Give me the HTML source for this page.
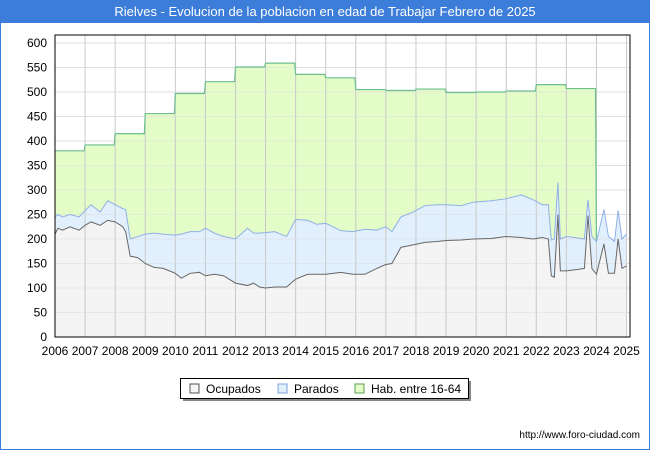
<!DOCTYPE html>
<html><head><meta charset="utf-8"><style>
body{margin:0;background:#fff;font-family:"Liberation Sans",sans-serif}
#wrap{position:relative;width:650px;height:450px;overflow:hidden}
</style></head><body>
<div id="wrap">
<svg id="svg" width="650" height="450" xmlns="http://www.w3.org/2000/svg">
<rect x="0.5" y="0.5" width="649" height="449" fill="#fff" stroke="#3b7dd8"/>
<rect x="0" y="0" width="650" height="23" fill="#3b7dd8"/>
<text x="325" y="16" text-anchor="middle" font-size="13" fill="#fff">Rielves - Evolucion de la poblacion en edad de Trabajar Febrero de 2025</text>
<g id="plot"></g>
<text x="640" y="438" text-anchor="end" font-size="10" fill="#000">http://www.foro-ciudad.com</text>
</svg>
</div>
<script>
const years=[2006,2007,2008,2009,2010,2011,2012,2013,2014,2015,2016,2017,2018,2019,2020,2021,2022,2023];
const habValues=[380,392,415,456,497,521,551,559,536,529,505,503,506,499,500,502,515,507];
const dates=[2006.0,2006.1,2006.25,2006.5,2006.8,2007.0,2007.2,2007.5,2007.75,2008.0,2008.25,2008.35,2008.5,2008.75,2009.0,2009.3,2009.6,2010.0,2010.2,2010.5,2010.8,2011.0,2011.3,2011.6,2012.0,2012.4,2012.6,2012.8,2013.0,2013.3,2013.7,2014.0,2014.4,2014.7,2015.0,2015.5,2015.9,2016.3,2016.7,2017.0,2017.2,2017.5,2017.9,2018.3,2018.7,2019.0,2019.5,2019.9,2020.5,2021.0,2021.5,2021.9,2022.2,2022.4,2022.5,2022.6,2022.72,2022.8,2023.0,2023.4,2023.6,2023.72,2023.85,2024.0,2024.25,2024.4,2024.6,2024.72,2024.85,2025.0];
const ocupados=[210,222,218,225,218,228,235,228,238,235,225,215,165,162,150,142,140,130,120,130,132,125,128,125,110,105,110,102,100,102,102,118,128,128,128,132,128,128,140,148,150,183,188,193,195,197,198,200,201,205,203,200,203,200,125,122,250,135,135,138,140,248,140,128,190,130,130,200,140,145];
const paradosTotal=[245,250,245,250,245,258,270,255,278,270,262,260,200,205,210,212,210,208,210,215,215,222,212,205,200,222,212,212,213,215,205,240,238,230,232,217,215,220,218,225,215,245,255,268,270,270,268,275,278,282,290,280,270,270,198,200,315,200,205,202,200,280,205,195,260,205,195,258,200,210];
const yTicks=[0,50,100,150,200,250,300,350,400,450,500,550,600];
const xTicks=[2006,2007,2008,2009,2010,2011,2012,2013,2014,2015,2016,2017,2018,2019,2020,2021,2022,2023,2024,2025];
const L=55,R=630,T=35,B=337;
const X=d=>L+(d-2006)*30.08;
const Y=v=>B-v*0.49;
const NS='http://www.w3.org/2000/svg';
const g=document.getElementById('plot');
function mk(t,a){const e=document.createElementNS(NS,t);for(const k in a)e.setAttribute(k,a[k]);g.appendChild(e);return e;}
let e;
e=mk('rect',{x:L,y:T,width:R-L,height:B-T,fill:'#fff'});


yTicks.forEach(v=>{
 e=mk('line',{x1:L,x2:R,y1:Y(v),y2:Y(v),stroke:'#ddd'});
 
 
});
// hab area
let hp=[];
years.forEach((yr,i)=>{hp.push([X(yr),Y(habValues[i])]);hp.push([X(yr+0.97),Y(habValues[i])]);});
const endD=2024.0;
let lastI=dates.findIndex(d=>d>=endD);
hp.push([X(endD),Y(paradosTotal[lastI])]);
let hpoly=hp.map(p=>p.join(',')).join(' ')+' '+X(endD)+','+B+' '+L+','+B;
e=mk('polygon',{points:hpoly,fill:'#e3fcc8'});


// parados area
let pp=dates.map((d,i)=>X(d)+','+Y(paradosTotal[i])).join(' ');
e=mk('polygon',{points:pp+' '+X(2025)+','+B+' '+L+','+B,fill:'#e2f0fe'});


let op=dates.map((d,i)=>X(d)+','+Y(ocupados[i])).join(' ');
e=mk('polygon',{points:op+' '+X(2025)+','+B+' '+L+','+B,fill:'#f4f4f4'});


// vertical grid on top (visible through fills)
xTicks.forEach(v=>{
 e=mk('line',{x1:X(v),x2:X(v),y1:T,y2:B,stroke:'#c8c8c8'});
 
 
});
yTicks.forEach(v=>{
 e=mk('line',{x1:L,x2:R,y1:Y(v),y2:Y(v),stroke:'#ddd','stroke-opacity':0.6});
 
 
});
e=mk('polyline',{points:hp.map(p=>p.join(',')).join(' '),fill:'none',stroke:'#6dbf8f','stroke-width':1.2});


e=mk('polyline',{points:pp,fill:'none',stroke:'#8fb0e8','stroke-width':1});


e=mk('polyline',{points:op,fill:'none',stroke:'#666','stroke-width':1});


e=mk('rect',{x:L,y:T,width:R-L,height:B-T,fill:'none',stroke:'#000'});


yTicks.forEach(v=>{
 e=mk('text',{x:L-8,y:Y(v)+4,'text-anchor':'end','font-size':12,fill:'#000'});
 e.textContent=v;
 
 
});
xTicks.forEach(v=>{
 e=mk('text',{x:X(v),y:355,'text-anchor':'middle','font-size':12,fill:'#000'});
 e.textContent=v;
 
 
});
// legend
e=mk('rect',{x:183,y:381,width:288,height:20,fill:'#888'});


e=mk('rect',{x:180.5,y:378.5,width:288,height:20,fill:'#fff',stroke:'#000'});


const leg=[['Ocupados','#f4f4f4','#555',190],['Parados','#e2f0fe','#7fa3df',278],['Hab. entre 16-64','#e3fcc8','#5b9e4d',355]];
leg.forEach(l=>{
 e=mk('rect',{x:l[3],y:384,width:9,height:9,fill:l[1],stroke:l[2]});
 
 
 e=mk('text',{x:l[3]+16,y:393,'font-size':12,fill:'#000'});
 e.textContent=l[0];
 
 
});
</script>
</body></html>
